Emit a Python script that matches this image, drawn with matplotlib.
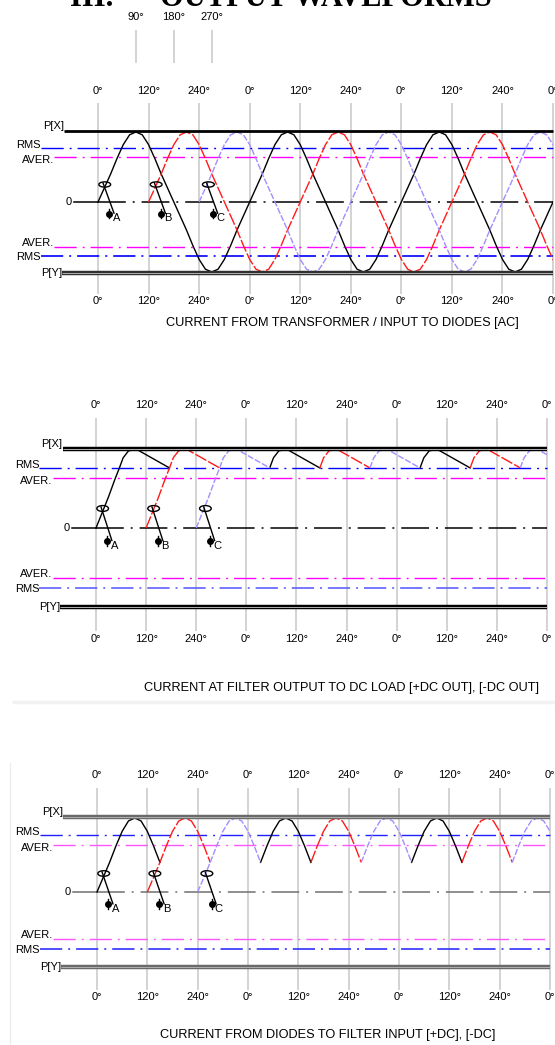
import numpy as np
import matplotlib
matplotlib.use("Agg")
import matplotlib.pyplot as plt
from matplotlib import font_manager
from matplotlib.patches import Ellipse, Rectangle
from matplotlib.lines import Line2D
from matplotlib.transforms import offset_copy

W, H = 555, 1045

# degree marks along each panel
TICK_DEG = [0, 120, 240, 360, 480, 600, 720, 840, 960, 1080]
TICK_LABELS = ["0°", "120°", "240°", "0°", "120°", "240°", "0°", "120°", "240°", "0°"]
HEADER_DEG = [90, 180, 270]
HEADER_LABELS = ["90°", "180°", "270°"]

PHASE_START = [0, 120, 240]
PHASE_NAMES = ["A", "B", "C"]
MARKER_DEG = [16, 138, 262]

# one AC cycle, peak = 1
CYCLE_DEG = [0, 15, 30, 45, 60, 75, 90, 105, 120, 135, 150, 165, 180,
             195, 210, 225, 240, 255, 270, 285, 300, 315, 330, 345, 360]
CYCLE_VAL = [0, 0.2, 0.4, 0.62, 0.82, 0.96, 1.0, 0.96, 0.82, 0.62, 0.4, 0.2, 0,
             -0.2, -0.4, -0.62, -0.82, -0.96, -1.0, -0.96, -0.82, -0.62, -0.4, -0.2, 0]

# filter output: top of each pulse then linear discharge
RIPPLE_DEG = [56, 65, 78, 90, 100, 176]
RIPPLE_VAL = [0.77, 0.90, 0.99, 1.0, 1.0, 0.77]

# reference levels
P_LEVEL = 1.01
RMS_LEVEL = 0.77
AVER_LEVEL = 0.64

CAPTIONS = ["CURRENT FROM TRANSFORMER / INPUT TO DIODES [AC]",
            "CURRENT AT FILTER OUTPUT TO DC LOAD [+DC OUT], [-DC OUT]",
            "CURRENT FROM DIODES TO FILTER INPUT [+DC], [-DC]"]

plt.rcParams["lines.scale_dashes"] = False
names = {f.name for f in font_manager.fontManager.ttflist}
NARROW = "Liberation Sans Narrow" if "Liberation Sans Narrow" in names else "Liberation Sans"
NSIZE = 9 if NARROW == "Liberation Sans Narrow" else 8

PHASE_STYLE = [dict(color="black", lw=1.0),
               dict(color="#ff1a1a", lw=1.0, ls=(0, (9, 1.5))),
               dict(color="#a58cff", lw=1.0, ls=(0, (4.5, 1.3)))]
DASHDOT = (0, (16, 4.3, 1.4, 4.3))

fig = plt.figure(figsize=(W / 100, H / 100), dpi=100)


def panel_axes(top, bot, x0, ppd, y0, amp):
    ax = fig.add_axes([0, 1 - bot / H, 1, (bot - top) / H])
    ax.set_xlim(-x0 / ppd, (W - x0) / ppd)
    ax.set_ylim((y0 - bot) / amp, (y0 - top) / amp)
    ax.axis("off")
    return ax


def txt(ax, x, y, s, dy=0, **kw):
    tr = offset_copy(ax.transData, fig=fig, x=0, y=dy, units="points")
    ax.text(x, y, s, transform=tr, family=NARROW, fontsize=NSIZE, **kw)


def draw_frame(ax, p_style, zero_color, rms_lo_color, mag="#ff00ff", blue="#0000ff"):
    # vertical phase lines and labels
    ax.vlines(TICK_DEG, -1.32, 1.41, color="#c8c8c8", lw=1.1, zorder=1)
    for d, lab in zip(TICK_DEG, TICK_LABELS):
        txt(ax, d, 1.58, lab, ha="center", va="center")
        txt(ax, d, -1.42, lab, ha="center", va="center")
    end = TICK_DEG[-1]
    # peak lines
    for lvl, x_lab, lab, dy, style in [(P_LEVEL, -80, "P[X]", 3.6, p_style[0]),
                                        (-P_LEVEL, -86, "P[Y]", -0.5, p_style[1])]:
        if style == "single":
            ax.plot([x_lab, end], [lvl, lvl], color="black", lw=2.0, zorder=4,
                    solid_capstyle="butt")
        else:
            ax.plot([x_lab, end], [lvl, lvl], color=style, lw=3.2, zorder=4,
                    solid_capstyle="butt")
            ax.plot([x_lab, end], [lvl, lvl], color="#b0b0b0", lw=0.7, zorder=5,
                    solid_capstyle="butt")
        txt(ax, x_lab, lvl, lab, dy=dy, ha="right", va="center")
    # rms / average lines
    ax.plot([-136, end], [RMS_LEVEL] * 2, color=blue, lw=1.0, ls=DASHDOT, zorder=2)
    ax.plot([-104, end], [AVER_LEVEL] * 2, color=mag, lw=1.0, ls=DASHDOT, zorder=2)
    ax.plot([-104, end], [-AVER_LEVEL] * 2, color=mag, lw=1.0, ls=DASHDOT, zorder=2)
    ax.plot([-136, end], [-RMS_LEVEL] * 2, color=rms_lo_color, lw=1.2, ls=DASHDOT, zorder=2)
    txt(ax, -136, RMS_LEVEL, "RMS", dy=2.2, ha="right", va="center")
    txt(ax, -104, AVER_LEVEL, "AVER.", dy=-2.2, ha="right", va="center")
    txt(ax, -104, -AVER_LEVEL, "AVER.", dy=3.0, ha="right", va="center")
    txt(ax, -136, -RMS_LEVEL, "RMS", dy=-0.7, ha="right", va="center")
    # zero line
    ax.plot([-57, 0], [0, 0], color=zero_color, lw=1.1, zorder=2)
    ax.plot([0, end], [0, 0], color=zero_color, lw=1.1, ls=(0, (20, 5, 1.4, 5)), zorder=2)
    txt(ax, -69, 0, "0", ha="center", va="center")
    # phase markers
    for d, name in zip(MARKER_DEG, PHASE_NAMES):
        ax.add_patch(Ellipse((d, 0.25), 28, 0.075, fill=False, ec="black", lw=1.0, zorder=6))
        ax.plot([d - 4, d + 22], [0.27, -0.16], color="black", lw=1.0, zorder=6)
        ax.plot([d + 11, d + 11], [-0.10, -0.23], color="black", lw=1.0, zorder=6)
        ax.plot([d + 11], [-0.165], marker="o", ms=4, mfc="black", mec="black",
                zorder=6)
        txt(ax, d + 19, -0.235, name, ha="left", va="center")


def draw_wave(ax, xs, ys, k):
    line, = ax.plot(xs, ys, zorder=3, **PHASE_STYLE[k])
    clip = Rectangle((-300, -5), 1380, 10, transform=ax.transData)
    line.set_clip_path(clip)


# ---------- panel 1: AC from transformer ----------
ax1 = panel_axes(0, 340, 98, 455 / 1080, 202, 70)
draw_frame(ax1, ("single", "#303030"), "black", "#0000ff")
for k, p in enumerate(PHASE_START):
    xs = np.concatenate([np.array(CYCLE_DEG[:-1]) + p + 360 * c for c in range(3)] + [[p + 1080]])
    ys = np.concatenate([CYCLE_VAL[:-1]] * 3 + [[0]])
    draw_wave(ax1, xs, ys, k)
# header marks 90 / 180 / 270
ax1.vlines(HEADER_DEG, 1.99, 2.46, color="#c8c8c8", lw=1.1)
for d, lab in zip(HEADER_DEG, HEADER_LABELS):
    txt(ax1, d, 2.64, lab, ha="center", va="center")

# ---------- panel 2: filter output ----------
ax2 = panel_axes(340, 700, 96, 451 / 1080, 528, 78)
draw_frame(ax2, ("black", "black"), "black", "#6060ff")
for k, p in enumerate(PHASE_START):
    for c in range(3):
        if c == 0:
            xs = np.array(CYCLE_DEG[:4] + RIPPLE_DEG) + p
            ys = CYCLE_VAL[:4] + RIPPLE_VAL
        else:
            xs = np.array(RIPPLE_DEG) + p + 360 * c
            ys = RIPPLE_VAL
        draw_wave(ax2, xs, ys, k)

# ---------- panel 3: diodes to filter input ----------
ax3 = panel_axes(700, 1045, 97, 453 / 1080, 892, 74)
draw_frame(ax3, ("#6a6a6a", "#6a6a6a"), "#707070", "#3030ff", mag="#ff55ff", blue="#2020ff")
for k, p in enumerate(PHASE_START):
    for c in range(3):
        lo = 0 if c == 0 else 2
        xs = np.array(CYCLE_DEG[lo:11]) + p + 360 * c
        ys = CYCLE_VAL[lo:11]
        draw_wave(ax3, xs, ys, k)

# captions and title
for (cx, cy), cap in zip([(342, 323), (341, 688), (328, 1035)], CAPTIONS):
    fig.text(cx / W, 1 - cy / H, cap, ha="center", va="center",
             family="Liberation Sans", fontsize=9.2)

fig.text(70 / W, 1 - 6 / H, "III.", ha="left", va="baseline",
         family="Liberation Serif", fontweight="bold", fontsize=22)
fig.text(160 / W, 1 - 6 / H, "OUTPUT WAVEFORMS", ha="left", va="baseline",
         family="Liberation Serif", fontweight="bold", fontsize=22)

# faint page borders of the pasted pictures
fig.add_artist(Line2D([14 / W, 1], [1 - 701.5 / H] * 2, color="#f2f2f2", lw=2.5))
fig.add_artist(Line2D([10 / W, 10 / W], [1 - 763 / H, 0], color="#ededed", lw=1))

fig.savefig("out.png", dpi=100)
